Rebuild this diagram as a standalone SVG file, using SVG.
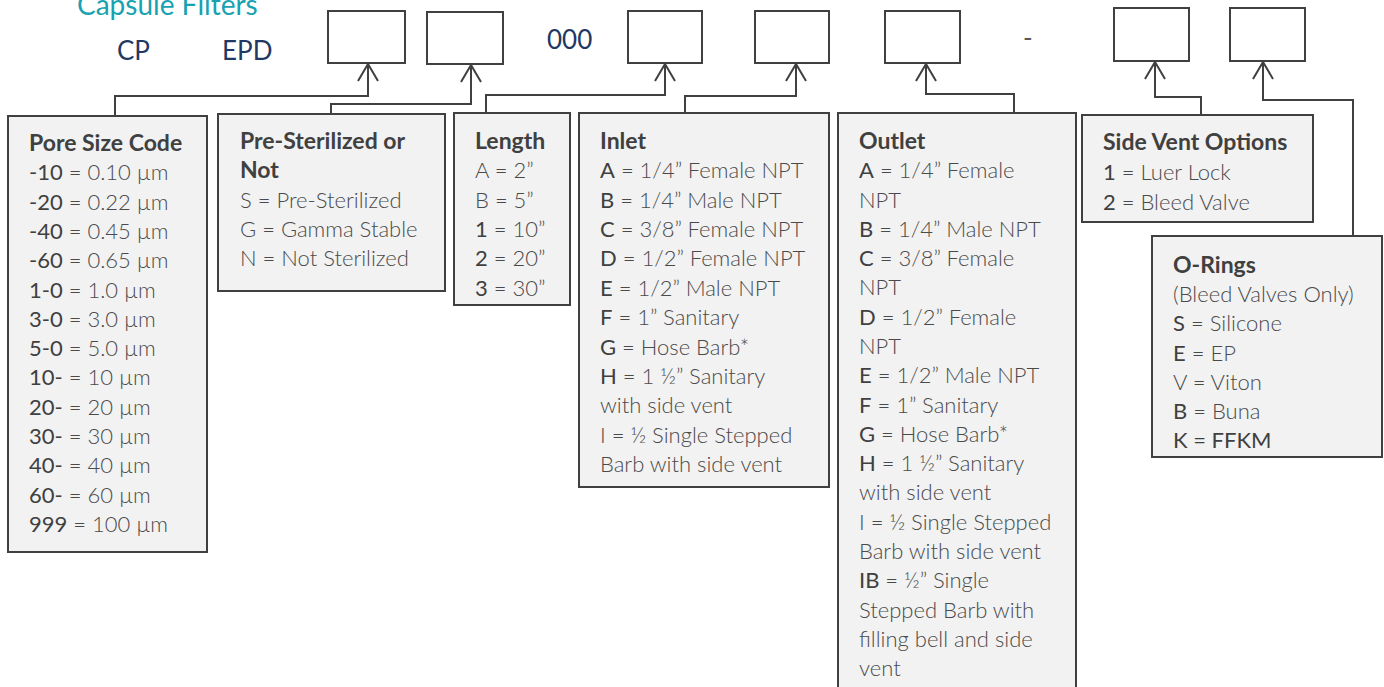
<svg xmlns="http://www.w3.org/2000/svg" width="1384" height="687" viewBox="0 0 1384 687">
<style>
.slot{fill:#ffffff;stroke:#404040;stroke-width:2}
.box{fill:#f2f2f2;stroke:#404040;stroke-width:2}
.con{fill:none;stroke:#404040;stroke-width:2}
text{font-family:Lato,"Open Sans","Liberation Sans",sans-serif}
.t{font-size:23px;font-weight:700;fill:#404040}
.b{font-size:22px;font-weight:300;fill:#4a4a4a}
.c{font-weight:400;fill:#404040}
.hd{font-size:26px;fill:#1f3864}
.ttl{font-size:28px;fill:#17a2b2}
</style>
<defs>
<marker id="arr" markerUnits="userSpaceOnUse" viewBox="0 0 20 22" markerWidth="20" markerHeight="22" refX="17" refY="11" orient="auto" overflow="visible">
<path d="M0,1 L17,11 L0,21" fill="none" stroke="#404040" stroke-width="2"/>
</marker>
</defs>
<g id="header">
<text class="ttl" x="77" y="15">Capsule Filters</text>
<text class="hd" x="117" y="60">CP</text>
<text class="hd" x="222" y="60">EPD</text>
<text class="hd" x="547" y="49">000</text>
<text class="hd" x="1023" y="47" style="fill:#595959">-</text>
</g>
<g id="slots">
<rect id="slot1" class="slot" x="328" y="11" width="77" height="52"/>
<rect id="slot2" class="slot" x="427" y="12" width="76" height="52"/>
<rect id="slot3" class="slot" x="628" y="11" width="74" height="52"/>
<rect id="slot4" class="slot" x="755" y="11" width="74" height="52"/>
<rect id="slot5" class="slot" x="885" y="11" width="75" height="52"/>
<rect id="slot6" class="slot" x="1114" y="8" width="75" height="53"/>
<rect id="slot7" class="slot" x="1230" y="8" width="75" height="53"/>
</g>
<g id="connectors">
<path class="con" marker-end="url(#arr)" d="M115,116 V96 H368 V64"/>
<path class="con" marker-end="url(#arr)" d="M331,114 V104 H471 V65"/>
<path class="con" marker-end="url(#arr)" d="M486,113 V95 H665 V64"/>
<path class="con" marker-end="url(#arr)" d="M685,113 V96 H796 V64"/>
<path class="con" marker-end="url(#arr)" d="M1014,113 V94 H926 V64"/>
<path class="con" marker-end="url(#arr)" d="M1201,115 V97 H1155 V62"/>
<path class="con" marker-end="url(#arr)" d="M1353,236 V100 H1263 V62"/>
</g>
<g id="pore">
<rect class="box" x="8" y="116" width="199" height="436"/>
<text class="t" x="29" y="151">Pore Size Code</text>
<text class="b" x="29" y="180"><tspan class="c">-10</tspan> = 0.10 µm</text>
<text class="b" x="29" y="209.6"><tspan class="c">-20</tspan> = 0.22 µm</text>
<text class="b" x="29" y="238.9"><tspan class="c">-40</tspan> = 0.45 µm</text>
<text class="b" x="29" y="268.2"><tspan class="c">-60</tspan> = 0.65 µm</text>
<text class="b" x="29" y="297.5"><tspan class="c">1-0</tspan> = 1.0 µm</text>
<text class="b" x="29" y="326.8"><tspan class="c">3-0</tspan> = 3.0 µm</text>
<text class="b" x="29" y="356.1"><tspan class="c">5-0</tspan> = 5.0 µm</text>
<text class="b" x="29" y="385.4"><tspan class="c">10-</tspan> = 10 µm</text>
<text class="b" x="29" y="414.7"><tspan class="c">20-</tspan> = 20 µm</text>
<text class="b" x="29" y="444"><tspan class="c">30-</tspan> = 30 µm</text>
<text class="b" x="29" y="473.3"><tspan class="c">40-</tspan> = 40 µm</text>
<text class="b" x="29" y="502.6"><tspan class="c">60-</tspan> = 60 µm</text>
<text class="b" x="29" y="531.9"><tspan class="c">999</tspan> = 100 µm</text>
</g>
<g id="sterile">
<rect class="box" x="218" y="114" width="227" height="177"/>
<text class="t" x="240" y="149">Pre-Sterilized or</text>
<text class="t" x="240" y="178.3">Not</text>
<text class="b" x="240" y="207.6">S = Pre-Sterilized</text>
<text class="b" x="240" y="236.9">G = Gamma Stable</text>
<text class="b" x="240" y="266.2">N = Not Sterilized</text>
</g>
<g id="length">
<rect class="box" x="454" y="113" width="116" height="192"/>
<text class="t" x="475" y="149">Length</text>
<text class="b" x="475" y="178.3">A = 2”</text>
<text class="b" x="475" y="207.6">B = 5”</text>
<text class="b" x="475" y="236.9"><tspan class="c">1</tspan> = 10”</text>
<text class="b" x="475" y="266.2"><tspan class="c">2</tspan> = 20”</text>
<text class="b" x="475" y="295.5"><tspan class="c">3</tspan> = 30”</text>
</g>
<g id="inlet">
<rect class="box" x="579" y="113" width="250" height="374"/>
<text class="t" x="600" y="149">Inlet</text>
<text class="b" x="600" y="178.4"><tspan class="c">A</tspan> = 1/4” Female NPT</text>
<text class="b" x="600" y="207.7"><tspan class="c">B</tspan> = 1/4” Male NPT</text>
<text class="b" x="600" y="237.1"><tspan class="c">C</tspan> = 3/8” Female NPT</text>
<text class="b" x="600" y="266.4"><tspan class="c">D</tspan> = 1/2” Female NPT</text>
<text class="b" x="600" y="295.8"><tspan class="c">E</tspan> = 1/2” Male NPT</text>
<text class="b" x="600" y="325.2"><tspan class="c">F</tspan> = 1” Sanitary</text>
<text class="b" x="600" y="354.5"><tspan class="c">G</tspan> = Hose Barb*</text>
<text class="b" x="600" y="383.9"><tspan class="c">H</tspan> = 1 ½” Sanitary</text>
<text class="b" x="600" y="413.2">with side vent</text>
<text class="b" x="600" y="442.6">I = ½ Single Stepped</text>
<text class="b" x="600" y="472">Barb with side vent</text>
</g>
<g id="outlet">
<rect class="box" x="838" y="113" width="238" height="590"/>
<text class="t" x="859" y="149">Outlet</text>
<text class="b" x="859" y="178.3"><tspan class="c">A</tspan> = 1/4” Female</text>
<text class="b" x="859" y="207.6">NPT</text>
<text class="b" x="859" y="236.8"><tspan class="c">B</tspan> = 1/4” Male NPT</text>
<text class="b" x="859" y="266.1"><tspan class="c">C</tspan> = 3/8” Female</text>
<text class="b" x="859" y="295.4">NPT</text>
<text class="b" x="859" y="324.7"><tspan class="c">D</tspan> = 1/2” Female</text>
<text class="b" x="859" y="354">NPT</text>
<text class="b" x="859" y="383.2"><tspan class="c">E</tspan> = 1/2” Male NPT</text>
<text class="b" x="859" y="412.5"><tspan class="c">F</tspan> = 1” Sanitary</text>
<text class="b" x="859" y="441.8"><tspan class="c">G</tspan> = Hose Barb*</text>
<text class="b" x="859" y="471.1"><tspan class="c">H</tspan> = 1 ½” Sanitary</text>
<text class="b" x="859" y="500.4">with side vent</text>
<text class="b" x="859" y="529.6">I = ½ Single Stepped</text>
<text class="b" x="859" y="558.9">Barb with side vent</text>
<text class="b" x="859" y="588.2"><tspan class="c">IB</tspan> = ½” Single</text>
<text class="b" x="859" y="617.5">Stepped Barb with</text>
<text class="b" x="859" y="646.8">filling bell and side</text>
<text class="b" x="859" y="676">vent</text>
</g>
<g id="sidevent">
<rect class="box" x="1082" y="115" width="231" height="107"/>
<text class="t" x="1103" y="150">Side Vent Options</text>
<text class="b" x="1103" y="180"><tspan class="c">1</tspan> = Luer Lock</text>
<text class="b" x="1103" y="209.5"><tspan class="c">2</tspan> = Bleed Valve</text>
</g>
<g id="orings">
<rect class="box" x="1152" y="236" width="230" height="221"/>
<text class="t" x="1173" y="273">O-Rings</text>
<text class="b" x="1173" y="302.2">(Bleed Valves Only)</text>
<text class="b" x="1173" y="331.4"><tspan class="c">S</tspan> = Silicone</text>
<text class="b" x="1173" y="360.6"><tspan class="c">E</tspan> = EP</text>
<text class="b" x="1173" y="389.8">V = Viton</text>
<text class="b" x="1173" y="419"><tspan class="c">B</tspan> = Buna</text>
<text class="b" x="1173" y="448.2"><tspan class="c">K = FFKM</tspan></text>
</g>
</svg>
